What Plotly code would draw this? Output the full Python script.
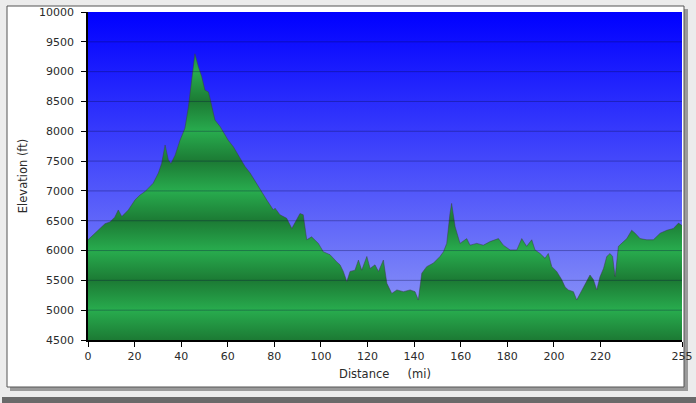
import plotly.graph_objects as go

# elevation profile
distance_mi = [0, 3.0, 5.0, 7.3, 9.4, 11.5, 13.0, 14.5, 17.3, 20.2, 22.3, 24.5, 28.0, 30.2,
               31.6, 33.1, 34.5, 35.6, 37.4, 39.5, 41.6, 43.1, 44.5, 45.9, 47.4, 48.8, 50.2,
               51.7, 52.4, 53.1, 54.5, 56.7, 58.8, 60.2, 62.4, 64.5, 67.4, 69.6, 73.9, 76.7,
               79.6, 80.3, 82.4, 85.3, 87.5, 88.9, 91.0, 92.4, 93.9, 96.0, 98.9, 101.0,
               103.9, 106.8, 108.2, 109.6, 111.1, 112.5, 114.6, 116.1, 117.5, 119.7, 121.1,
               123.2, 124.7, 126.8, 128.3, 130.4, 132.6, 135.4, 138.3, 140.4, 141.8, 143.3,
               145.4, 148.3, 151.1, 152.6, 154.0, 155.4, 156.1, 157.6, 159.7, 162.6, 164.0,
               166.9, 169.7, 172.6, 176.2, 178.3, 181.2, 184.1, 186.2, 188.3, 190.5, 191.9,
               194.1, 196.2, 197.6, 199.1, 201.2, 203.4, 204.8, 206.2, 208.4, 209.8, 211.3,
               213.4, 215.5, 217.0, 218.4, 219.8, 221.3, 222.7, 224.1, 225.2, 226.3, 227.7,
               229.1, 231.3, 233.4, 234.9, 237.0, 239.9, 242.7, 245.6, 248.5, 251.3, 253.5, 255]
elevation_ft = [6180, 6290, 6380, 6450, 6480, 6560, 6680, 6570, 6680, 6850, 6930, 6990, 7130, 7300,
                7460, 7770, 7520, 7460, 7600, 7850, 8050, 8410, 8860, 9300, 9080, 8920, 8690,
                8660, 8550, 8410, 8190, 8080, 7940, 7850, 7740, 7600, 7410, 7300, 7020, 6850,
                6680, 6710, 6600, 6540, 6370, 6480, 6620, 6600, 6180, 6230, 6120, 5980,
                5930, 5810, 5760, 5650, 5480, 5650, 5670, 5840, 5670, 5900, 5700,
                5760, 5650, 5840, 5450, 5280, 5340, 5310, 5340, 5310, 5170, 5620,
                5730, 5790, 5900, 5980, 6120, 6620, 6790, 6400, 6120, 6200, 6090,
                6120, 6090, 6150, 6200, 6090, 6010, 6010, 6200, 6070, 6180, 6010,
                5950, 5870, 5950, 5730, 5650, 5510, 5390, 5340, 5310, 5170, 5280,
                5450, 5590, 5510, 5340, 5560, 5700, 5900, 5950, 5900, 5560, 6070,
                6120, 6200, 6340, 6290, 6200, 6180, 6180, 6290, 6340, 6370, 6460, 6420]

x_ticks = [0, 20, 40, 60, 80, 100, 120, 140, 160, 180, 200, 220, 255]
y_ticks = [4500, 5000, 5500, 6000, 6500, 7000, 7500, 8000, 8500, 9000, 9500, 10000]

x_min, x_max = 0, 255
y_min, y_max = 4500, 10000

W, H = 696, 403
L, R, T, B = 88, 14, 12, 63


def px(x):
    return (x - L) / (W - L - R)


def py(y):
    return (H - B - y) / (H - T - B)


font = "DejaVu Sans"

# green bands: bright on the 1000s, dark on the odd 500s
green_scale = []
for v in y_ticks:
    frac = (v - y_min) / (y_max - y_min)
    green_scale.append([frac, "rgb(40,172,78)" if v % 1000 == 0 else "rgb(28,122,52)"])

fig = go.Figure()

fig.add_trace(go.Scatter(
    x=[x_min, x_max, x_max, x_min],
    y=[y_min, y_min, y_max, y_max],
    mode='lines',
    line=dict(width=0),
    fill='toself',
    fillgradient=dict(type='vertical', start=y_min, stop=y_max,
                      colorscale=[[0, 'rgb(150,160,246)'], [1, 'rgb(0,0,255)']]),
    hoverinfo='skip',
    showlegend=False
))

fig.add_trace(go.Scatter(
    x=distance_mi,
    y=elevation_ft,
    mode='lines',
    line=dict(color='rgba(60,60,70,0.5)', width=1),
    fill='tozeroy',
    fillgradient=dict(type='vertical', start=y_min, stop=y_max, colorscale=green_scale),
    name='Elevation',
    showlegend=False
))

shapes = [
    dict(type='rect', xref='paper', yref='paper', x0=px(10), x1=px(688), y0=py(9), y1=py(391),
         fillcolor='#9a9a9a', line=dict(width=0), layer='below'),
    dict(type='rect', xref='paper', yref='paper', x0=px(7), x1=px(684), y0=py(6), y1=py(387),
         fillcolor='white', line=dict(color='#555', width=1), layer='below'),
    dict(type='rect', xref='paper', yref='paper', x0=px(2), x1=px(696), y0=py(397), y1=py(403),
         fillcolor='#6a6a6a', line=dict(width=0), layer='below'),
]
for v in y_ticks[1:-1]:
    shapes.append(dict(type='line', xref='x domain', yref='y', x0=0, x1=1, y0=v, y1=v,
                       line=dict(color='rgba(10,10,60,0.32)', width=1), layer='above'))

fig.update_layout(
    width=W,
    height=H,
    margin=dict(l=L, r=R, t=T, b=B),
    paper_bgcolor='#ececec',
    plot_bgcolor='rgba(0,0,0,0)',
    font=dict(family=font, size=11, color='#2a2a2a'),
    shapes=shapes,
    xaxis=dict(
        range=[x_min, x_max],
        tickvals=x_ticks,
        ticktext=[str(v) for v in x_ticks],
        ticks='outside',
        ticklen=5,
        tickcolor='black',
        showline=True,
        linecolor='black',
        linewidth=1.5,
        showgrid=False,
        zeroline=False,
        automargin=False,
        title=dict(text='Distance' + '\u00a0' * 5 + '(mi)', standoff=8,
                   font=dict(family=font, size=11.5, color='#2a2a2a')),
        layer='above traces'
    ),
    yaxis=dict(
        range=[y_min, y_max],
        tickvals=y_ticks,
        ticktext=[str(v) for v in y_ticks],
        ticks='outside',
        ticklen=5,
        tickcolor='black',
        ticklabelstandoff=5,
        showline=True,
        linecolor='black',
        linewidth=1.5,
        showgrid=False,
        zeroline=False,
        automargin=False,
        title=dict(text='Elevation (ft)', standoff=9,
                   font=dict(family=font, size=11.5, color='#2a2a2a')),
        layer='above traces'
    )
)

fig.write_html("out.html", config={'displayModeBar': False},
               post_script="document.body.style.margin='0';document.body.style.overflow='hidden';")
